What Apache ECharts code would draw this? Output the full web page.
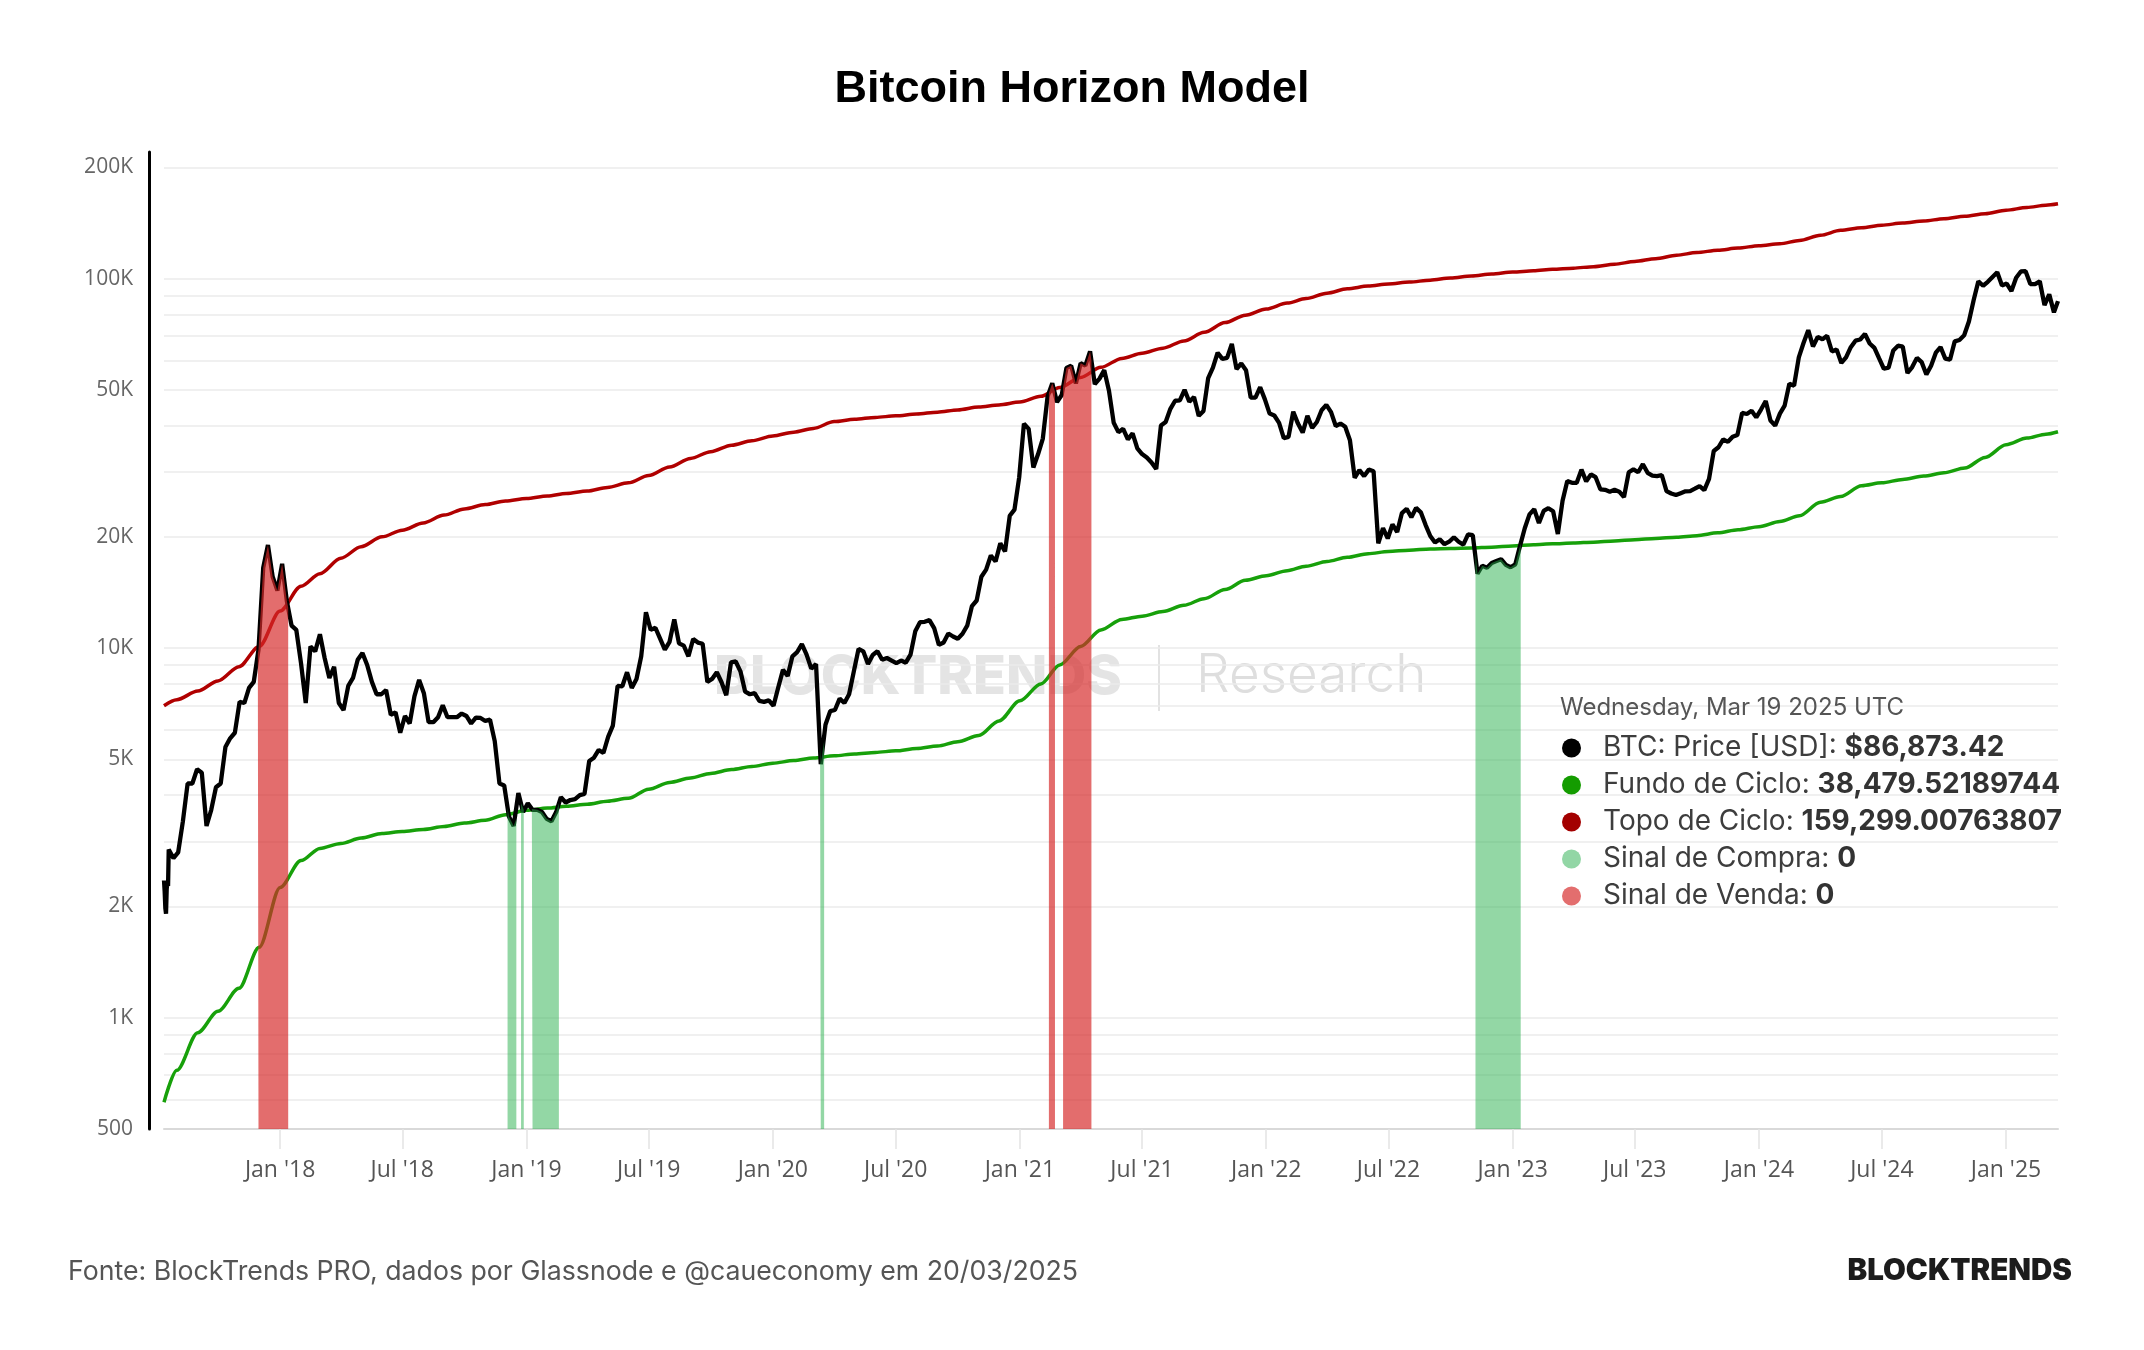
<!DOCTYPE html>
<html><head><meta charset="utf-8">
<script src="https://cdn.jsdelivr.net/npm/echarts@6/dist/echarts.min.js"></script>
<style>html,body{margin:0;padding:0;background:#fff}#c{width:2144px;height:1350px}</style>
</head><body><div id="c"></div>
<script>
// ================= DATA =================
const chartTitle = 'Bitcoin Horizon Model';
const tooltipDate = 'Wednesday, Mar 19 2025 UTC';
const footerText = 'Fonte: BlockTrends PRO, dados por Glassnode e @caueconomy em 20/03/2025';
const brandText = 'BLOCKTRENDS';

const xStart = '2017-07-13', xEnd = '2025-03-19';
const xTickDates = ['2018-01-01','2018-07-01','2019-01-01','2019-07-01','2020-01-01','2020-07-01','2021-01-01','2021-07-01','2022-01-01','2022-07-01','2023-01-01','2023-07-01','2024-01-01','2024-07-01','2025-01-01'];
const xTickLabels = ["Jan '18","Jul '18","Jan '19","Jul '19","Jan '20","Jul '20","Jan '21","Jul '21","Jan '22","Jul '22","Jan '23","Jul '23","Jan '24","Jul '24","Jan '25"];
const yTickValues = [500,1000,2000,5000,10000,20000,50000,100000,200000];
const yTickLabels = ['500','1K','2K','5K','10K','20K','50K','100K','200K'];
const yGridValues = [500,600,700,800,900,1000,2000,3000,4000,5000,6000,7000,8000,9000,10000,20000,30000,40000,50000,60000,70000,80000,90000,100000,200000];

// BTC price: daily Jul 13-19 2017, then weekly (Thursdays)
const priceJul2017Daily = [2353,2191,1976,1910,2229,2319,2270];
const price2017 = [2850,2700, 2800,3400,4300,4300,4700, 4600,3300,3650,4200, 4300,5400,5700,5900, 7150,7100,7800,8100,9900, 16500,19000,15600,14300];
const price2018 = [16900,13400,11500,11200, 9100,7100,10100,9800, 10900,9400,8300,8900,7100, 6800,7900,8300,9300, 9700,9000,8100,7500,7500, 7700,6600,6700,5900, 6550,6250,7400,8200, 7550,6300,6300,6500,7000, 6500,6500,6500,6650, 6550,6250,6480,6470, 6350,6400,5600,4300,4250, 3500,3300,4050,3600];
const price2019 = [3800,3650,3650,3600,3450, 3400,3600,3950,3820, 3880,3900,4000,4030, 4950,5050,5300,5200, 5750,6170,7900,7880,8600, 7800,8250,9500,12500, 11200,11350,10600,9900, 10400,11950,10300,10150,9500, 10580,10350,10270,8100, 8250,8600,8080,7450,9150, 9200,8650,7620,7500, 7550,7200,7150,7220];
const price2020 = [6980,7820,8730,8400,9500, 9750,10250,9600,8800, 9050,4850,6200,6750, 6800,7300,7100,7500,8650, 9950,9800,9050,9580, 9800,9300,9400,9250, 9100,9250,9130,9600,11100, 11750,11780,11900,11330, 10200,10350,10950,10750, 10600,10930,11500,12990,13450, 15600,16300,17800,17150, 19200,18250,22800,23700,29000];
const price2021 = [40500,39200,30800,33500, 36900,47900,52100,46300, 48400,57300,58100,52000, 59000,58100,63500,51800,53600, 56500,49700,40700,38400, 39200,36700,38100,34700, 33500,32800,31800,30500,40000, 40900,44400,46700,46800, 50000,46400,47800,42500,43800, 53800,57400,63000,60600, 61000,66500,56900,58900, 56500,47600,47600,50800,47100];
const price2022 = [43100,42600,40700,37000, 37300,43600,40500,38300, 42500,39400,40900,44000,45500, 43500,39900,40500,39700, 36500,28900,30300,29200, 30400,30100,19200,21100,19800, 21600,20600,23200,23800, 22600,23950,23300,21550, 20100,19300,19700,19100,19400, 19950,19400,19050,20300, 20200,15900,16700,16500, 17000,17200,17400,16800,16550];
const price2023 = [16850,18900,21100,23000, 23750,21800,23500,23900, 23450,20350,25050,28300,28000, 28000,30400,28250,29500, 29000,26900,26800,26500, 26800,26500,25600,29900,30450, 29900,31450,29800,29300, 29200,29400,26600,26200,25950, 26250,26550,26600,27000, 27450,26750,28700,34150, 34950,36700,36150,37300,37700, 43300,43000,43900,42100];
const price2024 = [44200,46600,41300,40000, 43100,45300,51900,51300,61200, 66900,72500,65500,69500, 68500,70000,63500,64300, 59100,61200,65200,67900,68400, 70800,66700,64900,60800, 57000,57400,63900,65800, 65400,55500,57600,61000,59400, 55000,58100,63000,65200, 60700,60300,67600,68200,70200, 76500,87300,98300,95600, 98000,101000,104000,95800];
const price2025 = [96900,92500,100500,104500,104700, 96600,96600,98300,84700, 90600,81000];
const priceLast = ['2025-03-19', 86873.42];

// Cycle curves: Jul 13 2017, then 1st of each month, then Mar 19 2025
const fundo2017 = [590,720,910,1040,1200,1550];
const fundo2018 = [2250,2660,2870,2960,3060,3150,3190,3230,3290,3360,3420,3540];
const fundo2019 = [3640,3690,3730,3780,3850,3920,4150,4330,4450,4580,4690,4780];
const fundo2020 = [4880,4960,5040,5110,5170,5220,5270,5350,5430,5580,5800,6350];
const fundo2021 = [7200,8000,9000,10100,11200,11950,12200,12550,13050,13600,14400,15250];
const fundo2022 = [15700,16200,16650,17150,17600,18000,18250,18400,18550,18600,18650,18750];
const fundo2023 = [18900,19050,19150,19250,19350,19500,19650,19800,19950,20150,20500,20900];
const fundo2024 = [21300,22000,22800,24800,25700,27500,28000,28600,29200,29800,30700,32800];
const fundo2025 = [35500,37000,37900,38479.52189744];

const topo2017 = [6980,7250,7650,8150,8900,10100];
const topo2018 = [12600,14700,15900,17500,18800,20000,20850,21800,22900,23800,24450,25000];
const topo2019 = [25400,25800,26200,26600,27200,28000,29300,30900,32600,34000,35400,36400];
const topo2020 = [37500,38400,39300,41000,41600,42100,42500,43000,43500,44100,44900,45500];
const topo2021 = [46300,48000,50700,54000,57500,60800,62800,64800,67800,71500,76000,79600];
const topo2022 = [82700,85800,88300,91300,93800,95400,96700,97800,99000,100300,101600,102800];
const topo2023 = [104100,105000,105900,106700,107700,109300,111200,113200,115600,117600,119300,120900];
const topo2024 = [122700,124200,126800,131000,135000,137300,139400,141300,143100,145200,147400,149800];
const topo2025 = [153000,155700,157900,159299.00763807];

// Signal bands (height = price level while the signal is on)
const buySignal = [
  [['2018-12-04',3700],['2018-12-06',3500],['2018-12-13',3300],['2018-12-17',3450]],
  [['2018-12-24',3800],['2018-12-28',3650]],
  [['2019-01-09',3670],['2019-01-10',3650],['2019-01-17',3650],['2019-01-24',3600],['2019-01-31',3450],['2019-02-07',3400],['2019-02-14',3600],['2019-02-18',3800]],
  [['2020-03-11',5450],['2020-03-12',4850],['2020-03-17',5600]],
  [['2022-11-07',18200],['2022-11-10',15900],['2022-11-17',16700],['2022-11-24',16500],['2022-12-01',17000],['2022-12-08',17200],['2022-12-15',17400],['2022-12-22',16800],['2022-12-29',16550],['2023-01-05',16850],['2023-01-12',18900],['2023-01-13',19150]]
];
const sellSignal = [
  [['2017-11-29',9650],['2017-11-30',9900],['2017-12-07',16500],['2017-12-14',19000],['2017-12-21',15600],['2017-12-28',14300],['2018-01-04',16900],['2018-01-11',13400],['2018-01-13',12850]],
  [['2021-02-13',49000],['2021-02-18',52100],['2021-02-22',49500]],
  [['2021-03-06',50800],['2021-03-11',57300],['2021-03-18',58100],['2021-03-25',52000],['2021-04-01',59000],['2021-04-08',58100],['2021-04-15',63500],['2021-04-17',59900]]
];
const signalNow = {compra: 0, venda: 0};

const seriesNames = ['BTC: Price [USD]','Fundo de Ciclo','Topo de Ciclo','Sinal de Compra','Sinal de Venda'];

// ================= BUILD =================
const DAY = 86400000;
const ts = s => Date.parse(s + 'T00:00:00Z');
const segment = (start, step, values) => values.map((v, i) => [ts(start) + i * step * DAY, v]);

const priceData = [].concat(
  segment('2017-07-13', 1, priceJul2017Daily),
  segment('2017-07-20', 7, price2017),
  segment('2018-01-04', 7, price2018),
  segment('2019-01-03', 7, price2019),
  segment('2020-01-02', 7, price2020),
  segment('2021-01-07', 7, price2021),
  segment('2022-01-06', 7, price2022),
  segment('2023-01-05', 7, price2023),
  segment('2024-01-04', 7, price2024),
  segment('2025-01-02', 7, price2025),
  [[ts(priceLast[0]), priceLast[1]]]
);

const cycleDates = ['2017-07-13'];
{ let y = 2017, m = 8;
  while (y < 2025 || (y === 2025 && m <= 3)) {
    cycleDates.push(y + '-' + String(m).padStart(2, '0') + '-01');
    m++; if (m > 12) { m = 1; y++; }
  }
  cycleDates.push('2025-03-19');
}
const fundoValues = [].concat(fundo2017,fundo2018,fundo2019,fundo2020,fundo2021,fundo2022,fundo2023,fundo2024,fundo2025);
const topoValues = [].concat(topo2017,topo2018,topo2019,topo2020,topo2021,topo2022,topo2023,topo2024,topo2025);
const fundoData = cycleDates.map((d, i) => [ts(d), fundoValues[i]]);
const topoData = cycleDates.map((d, i) => [ts(d), topoValues[i]]);

function bandData(segs) {
  const out = [];
  segs.forEach((seg, k) => {
    seg.forEach(p => out.push([ts(p[0]), p[1]]));
    if (k < segs.length - 1) out.push([ts(seg[seg.length - 1][0]) + DAY, null]);
  });
  return out;
}

const fmt = (n, d) => n.toLocaleString('en-US', {minimumFractionDigits: d, maximumFractionDigits: d});
const legendValues = {};
legendValues[seriesNames[0]] = '$' + fmt(priceLast[1], 2);
legendValues[seriesNames[1]] = fmt(fundoValues[fundoValues.length - 1], 8);
legendValues[seriesNames[2]] = fmt(topoValues[topoValues.length - 1], 8);
legendValues[seriesNames[3]] = String(signalNow.compra);
legendValues[seriesNames[4]] = String(signalNow.venda);

const xTickTs = xTickDates.map(ts);

const chart = echarts.init(document.getElementById('c'), null, {renderer: 'canvas'});
chart.setOption({
  backgroundColor: '#ffffff',
  animation: false,
  title: [
    {text: chartTitle, left: 'center', top: 67, padding: 0,
     textStyle: {fontFamily: 'Liberation Sans', fontWeight: 'bold', fontSize: 45, color: '#000'}},
    {text: tooltipDate, left: 1560, top: 694, padding: 0,
     textStyle: {fontFamily: 'Inter', fontWeight: 'normal', fontSize: 24, color: '#555', lineHeight: 28}}
  ],
  legend: {
    orient: 'vertical', left: 1562, top: 734, padding: 0, itemGap: 9,
    itemWidth: 19, itemHeight: 19, icon: 'circle', selectedMode: false,
    itemStyle: {borderWidth: 0},
    data: seriesNames,
    formatter: name => '{n|' + name + ': }{v|' + legendValues[name] + '}',
    textStyle: {
      rich: {
        n: {fontFamily: 'Inter', fontSize: 28, color: '#3d3d3d', lineHeight: 30, padding: [0, 0, 0, 17]},
        v: {fontFamily: 'Inter', fontSize: 28, fontWeight: 'bold', color: '#333', lineHeight: 30}
      }
    }
  },
  grid: {left: 164, right: 86, top: 152, bottom: 221},
  xAxis: {
    type: 'value', min: ts(xStart), max: ts(xEnd), scale: true,
    axisLine: {show: true, lineStyle: {color: '#d9d9d9', width: 2}},
    axisTick: {show: true, customValues: xTickTs, length: 20, lineStyle: {color: '#e3e3e3', width: 1.5}},
    axisLabel: {
      customValues: xTickTs, margin: 30, fontFamily: 'Open Sans', fontSize: 23, color: '#555',
      formatter: v => { const i = xTickTs.findIndex(t => Math.abs(t - v) < DAY); return i >= 0 ? xTickLabels[i] : ''; }
    },
    splitLine: {show: false}
  },
  yAxis: {
    type: 'log', logBase: 10, min: 499.5, max: 220000, offset: 15,
    axisLine: {show: true, lineStyle: {color: '#000', width: 3}},
    axisTick: {show: false, customValues: yGridValues},
    axisLabel: {
      customValues: yTickValues, margin: 16, fontFamily: 'Open Sans', fontSize: 21, color: '#666',
      formatter: v => { const i = yTickValues.findIndex(t => Math.abs(t - v) / t < 1e-6); return i >= 0 ? yTickLabels[i] : ''; }
    },
    splitLine: {show: true, lineStyle: {color: '#ebebeb', width: 1.5}}
  },
  graphic: [
    {type: 'text', left: 714, top: 651, z: 0, silent: true,
     style: {text: brandText, font: '800 54px Inter', fill: '#e4e4e4'}},
    {type: 'rect', z: 0, silent: true, shape: {x: 1158, y: 645, width: 2, height: 66}, style: {fill: '#e2e2e2'}},
    {type: 'text', left: 1196, top: 650, z: 0, silent: true,
     style: {text: 'Research', font: '300 53px Inter', fill: '#dedede'}},
    {type: 'text', left: 68, top: 1258, silent: true,
     style: {text: footerText, font: '26.7px Inter', fill: '#555'}},
    {type: 'text', right: 72, top: 1256, silent: true,
     style: {text: brandText, font: '900 29.5px Inter', fill: '#1c1c1c'}}
  ],
  series: [
    {name: seriesNames[1], type: 'line', data: fundoData, symbol: 'none', smooth: 0.3, smoothMonotone: 'x',
     lineStyle: {color: '#17a00a', width: 3.5}, itemStyle: {color: '#149c00'}, z: 2},
    {name: seriesNames[2], type: 'line', data: topoData, symbol: 'none', smooth: 0.3, smoothMonotone: 'x',
     lineStyle: {color: '#b00000', width: 3.5}, itemStyle: {color: '#a30000'}, z: 2},
    {name: seriesNames[0], type: 'line', data: priceData, symbol: 'none',
     lineStyle: {color: '#000', width: 4.3}, itemStyle: {color: '#000'}, z: 2},
    {name: seriesNames[3], type: 'line', data: bandData(buySignal), symbol: 'none', connectNulls: false,
     lineStyle: {width: 0}, itemStyle: {color: '#92d6a5'},
     areaStyle: {color: 'rgba(40,175,75,0.5)', origin: 'start', opacity: 1}, z: 3},
    {name: seriesNames[4], type: 'line', data: bandData(sellSignal), symbol: 'none', connectNulls: false,
     lineStyle: {width: 0}, itemStyle: {color: '#e36e6e'},
     areaStyle: {color: 'rgba(214,40,40,0.68)', origin: 'start', opacity: 1}, z: 3}
  ]
});
</script>
</body></html>
